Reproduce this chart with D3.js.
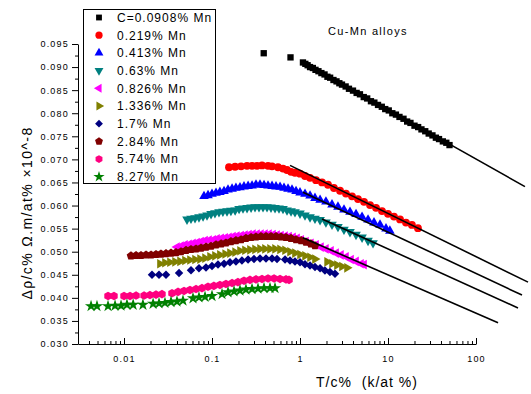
<!DOCTYPE html>
<html>
<head>
<meta charset="utf-8">
<script src="https://cdn.jsdelivr.net/npm/d3@7"></script>
<style>
  body { margin: 0; background: #fff; }
  text { font-family: "Liberation Sans", Arial, sans-serif; fill: #000; }
  .tick text { font-size: 9px; letter-spacing: 1.2px; }
</style>
</head>
<body>
<div id="chart"></div>
<script>
// T/c% values (x) and drho/c% values (y)
const t0908 = [0.387, 0.78, 1.08, 1.15, 1.22, 1.30, 1.40, 1.50, 1.62, 1.75, 1.90, 2.05, 2.2, 2.4, 2.6, 2.8, 3.0, 3.3, 3.6, 4.0, 4.4, 4.8, 5.3, 5.8, 6.4, 7.0, 7.7, 8.5, 9.3, 10.2, 11.2, 12.3, 13.5, 15, 16.5, 18, 20, 22, 24, 26.5, 29, 32, 35, 38, 42, 46, 50];
const r0908 = [0.0930, 0.0921, 0.0910, 0.0907, 0.0904, 0.0900, 0.0898, 0.0894, 0.0891, 0.0887, 0.0884, 0.0879, 0.0877, 0.0872, 0.0869, 0.0865, 0.0862, 0.0858, 0.0853, 0.0849, 0.0844, 0.0841, 0.0835, 0.0832, 0.0826, 0.0823, 0.0818, 0.0814, 0.0809, 0.0806, 0.0800, 0.0797, 0.0792, 0.0788, 0.0782, 0.0779, 0.0773, 0.0770, 0.0765, 0.0761, 0.0756, 0.0752, 0.0747, 0.0744, 0.0739, 0.0736, 0.0731];

const t219 = [0.156, 0.183, 0.214, 0.250, 0.285, 0.325, 0.370, 0.433, 0.481, 0.562, 0.641, 0.712, 0.791, 0.877, 1.0, 1.14, 1.30, 1.52, 1.78, 2.08, 2.43, 2.85, 3.33, 3.90, 4.56, 5.34, 6.25, 7.31, 8.55, 10.0, 11.7, 13.7, 16.0, 18.7, 21.9];
const r219 = [0.0683, 0.0684, 0.0685, 0.0686, 0.0686, 0.0686, 0.0687, 0.0686, 0.0685, 0.0683, 0.0680, 0.0677, 0.0673, 0.0671, 0.0669, 0.0664, 0.0660, 0.0655, 0.0650, 0.0645, 0.0638, 0.0632, 0.0626, 0.0620, 0.0614, 0.0608, 0.0601, 0.0595, 0.0588, 0.0582, 0.0576, 0.0570, 0.0563, 0.0558, 0.0551];

const t413 = [0.0811, 0.0901, 0.100, 0.111, 0.123, 0.137, 0.152, 0.169, 0.187, 0.208, 0.231, 0.257, 0.285, 0.316, 0.351, 0.390, 0.433, 0.481, 0.534, 0.593, 0.658, 0.731, 0.811, 0.901, 1.0, 1.14, 1.30, 1.48, 1.69, 1.97, 2.31, 2.70, 3.16, 3.70, 4.33, 5.07, 5.93, 6.93, 8.11, 9.49, 10.5];
const r413 = [0.0620, 0.0622, 0.0625, 0.0627, 0.0629, 0.0631, 0.0634, 0.0636, 0.0638, 0.0639, 0.0641, 0.0642, 0.0643, 0.0645, 0.0645, 0.0644, 0.0643, 0.0642, 0.0641, 0.0640, 0.0638, 0.0636, 0.0634, 0.0631, 0.0628, 0.0625, 0.0621, 0.0616, 0.0612, 0.0608, 0.0602, 0.0597, 0.0591, 0.0586, 0.0581, 0.0575, 0.0569, 0.0563, 0.0558, 0.0550, 0.0545];

const t63 = [0.0520, 0.0577, 0.0641, 0.0711, 0.0791, 0.0878, 0.0975, 0.108, 0.120, 0.133, 0.148, 0.164, 0.183, 0.203, 0.225, 0.250, 0.278, 0.308, 0.342, 0.380, 0.422, 0.468, 0.520, 0.577, 0.641, 0.712, 0.791, 0.877, 1.0, 1.14, 1.30, 1.48, 1.69, 1.97, 2.31, 2.70, 3.16, 3.70, 4.33, 5.07, 5.93, 6.76];
const r63 = [0.0570, 0.0572, 0.0573, 0.0575, 0.0577, 0.0579, 0.0582, 0.0584, 0.0586, 0.0587, 0.0588, 0.0589, 0.0590, 0.0593, 0.0594, 0.0595, 0.0596, 0.0597, 0.0597, 0.0597, 0.0597, 0.0596, 0.0595, 0.0594, 0.0593, 0.0590, 0.0588, 0.0586, 0.0583, 0.0579, 0.0575, 0.0572, 0.0569, 0.0564, 0.0559, 0.0554, 0.0548, 0.0543, 0.0537, 0.0531, 0.0524, 0.0519];

const t826 = [0.0400, 0.0444, 0.0493, 0.0548, 0.0608, 0.0676, 0.0750, 0.0833, 0.0925, 0.103, 0.114, 0.127, 0.141, 0.156, 0.173, 0.192, 0.214, 0.237, 0.263, 0.292, 0.325, 0.360, 0.400, 0.444, 0.493, 0.548, 0.608, 0.676, 0.750, 0.833, 0.925, 1.03, 1.17, 1.33, 1.52, 1.73, 1.97, 2.25, 2.57, 2.92, 3.33, 3.80, 4.33, 4.93, 5.34];
const r826 = [0.0510, 0.0512, 0.0515, 0.0516, 0.0518, 0.0520, 0.0522, 0.0524, 0.0525, 0.0526, 0.0528, 0.0529, 0.0530, 0.0531, 0.0533, 0.0534, 0.0535, 0.0536, 0.0537, 0.0538, 0.0538, 0.0538, 0.0538, 0.0538, 0.0537, 0.0536, 0.0535, 0.0534, 0.0533, 0.0531, 0.0529, 0.0526, 0.0522, 0.0518, 0.0515, 0.0510, 0.0506, 0.0502, 0.0497, 0.0493, 0.0489, 0.0483, 0.0479, 0.0474, 0.0472];

const t1336 = [0.0256, 0.0292, 0.0333, 0.0380, 0.0433, 0.0493, 0.0562, 0.0641, 0.0731, 0.0833, 0.0949, 0.108, 0.123, 0.141, 0.160, 0.183, 0.208, 0.237, 0.270, 0.308, 0.351, 0.400, 0.456, 0.520, 0.593, 0.676, 0.770, 0.877, 1.0, 1.14, 1.30, 1.48, 2.03, 2.31, 2.63, 3.00, 3.42];
const r1336 = [0.0474, 0.0476, 0.0477, 0.0478, 0.0479, 0.0481, 0.0482, 0.0483, 0.0484, 0.0486, 0.0489, 0.0491, 0.0493, 0.0495, 0.0497, 0.0499, 0.0502, 0.0503, 0.0504, 0.0505, 0.0506, 0.0506, 0.0506, 0.0506, 0.0505, 0.0503, 0.0500, 0.0497, 0.0494, 0.0491, 0.0488, 0.0484, 0.0478, 0.0474, 0.0471, 0.0468, 0.0465];

const t17 = [0.0208, 0.0250, 0.0300, 0.0422, 0.0577, 0.0711, 0.0855, 0.100, 0.117, 0.137, 0.160, 0.187, 0.219, 0.257, 0.300, 0.351, 0.411, 0.481, 0.548, 0.676, 0.770, 0.877, 1.0, 1.14, 1.30, 1.48, 1.69, 1.92, 2.19, 2.50];
const r17 = [0.0450, 0.0450, 0.0450, 0.0454, 0.0460, 0.0464, 0.0466, 0.0469, 0.0472, 0.0474, 0.0477, 0.0479, 0.0481, 0.0483, 0.0484, 0.0485, 0.0485, 0.0485, 0.0484, 0.0483, 0.0481, 0.0479, 0.0477, 0.0473, 0.0470, 0.0467, 0.0464, 0.0459, 0.0456, 0.0452];

const t284 = [0.0120, 0.0137, 0.0156, 0.0178, 0.0203, 0.0231, 0.0263, 0.0300, 0.0342, 0.0390, 0.0444, 0.0507, 0.0577, 0.0658, 0.0750, 0.0855, 0.0975, 0.111, 0.127, 0.144, 0.164, 0.187, 0.214, 0.243, 0.278, 0.316, 0.360, 0.411, 0.468, 0.534, 0.608, 0.693, 0.790, 0.901, 1.03, 1.17, 1.33, 1.48];
const r284 = [0.0491, 0.0492, 0.0492, 0.0493, 0.0493, 0.0494, 0.0495, 0.0496, 0.0497, 0.0498, 0.0500, 0.0503, 0.0505, 0.0506, 0.0508, 0.0510, 0.0512, 0.0515, 0.0517, 0.0519, 0.0522, 0.0524, 0.0526, 0.0529, 0.0531, 0.0532, 0.0533, 0.0533, 0.0533, 0.0533, 0.0532, 0.0531, 0.0529, 0.0526, 0.0524, 0.0521, 0.0517, 0.0513];

const t574 = [0.00658, 0.00769, 0.0100, 0.0117, 0.0137, 0.0169, 0.0197, 0.0231, 0.0270, 0.0351, 0.0411, 0.0481, 0.0562, 0.0658, 0.0769, 0.0901, 0.105, 0.123, 0.144, 0.169, 0.197, 0.231, 0.270, 0.316, 0.370, 0.433, 0.507, 0.593, 0.693, 0.750];
const r574 = [0.0404, 0.0404, 0.0404, 0.0404, 0.0405, 0.0405, 0.0406, 0.0407, 0.0408, 0.0410, 0.0413, 0.0415, 0.0417, 0.0419, 0.0421, 0.0424, 0.0426, 0.0428, 0.0430, 0.0432, 0.0434, 0.0437, 0.0439, 0.0440, 0.0441, 0.0442, 0.0442, 0.0441, 0.0440, 0.0439];

const t827 = [0.00422, 0.00493, 0.00658, 0.00791, 0.00925, 0.0108, 0.0127, 0.0164, 0.0214, 0.0250, 0.0292, 0.0342, 0.0400, 0.0468, 0.0608, 0.0711, 0.0833, 0.100, 0.130, 0.152, 0.178, 0.208, 0.243, 0.285, 0.333, 0.390, 0.456, 0.520];
const r827 = [0.0382, 0.0382, 0.0382, 0.0383, 0.0383, 0.0385, 0.0385, 0.0385, 0.0387, 0.0388, 0.0389, 0.0391, 0.0392, 0.0394, 0.0399, 0.0401, 0.0402, 0.0404, 0.0408, 0.0412, 0.0414, 0.0416, 0.0418, 0.0419, 0.0420, 0.0421, 0.0421, 0.0421];

// straight fits (log T), start / end points
const fitT0 = [1.14, 0.77, 1.08, 1.78, 1.08];
const fitR0 = [0.0909, 0.0687, 0.0629, 0.0571, 0.0530];
const fitT1 = [360, 390, 333, 300, 178];
const fitR1 = [0.0641, 0.0434, 0.0406, 0.0378, 0.0346];

const legendLabels = ["C=0.0908% Mn", "0.219% Mn", "0.413% Mn", "0.63% Mn", "0.826% Mn", "1.336% Mn", "1.7% Mn", "2.84% Mn", "5.74% Mn", "8.27% Mn"];
const xTicks = [0.01, 0.1, 1, 10, 100];
const yTicks = [0.030, 0.035, 0.040, 0.045, 0.050, 0.055, 0.060, 0.065, 0.070, 0.075, 0.080, 0.085, 0.090, 0.095];

// polygon marker for d3.symbol
function polygon(n, rot) {
  return {
    draw(ctx, size) {
      const r = Math.sqrt(2 * size / (n * Math.sin(2 * Math.PI / n)));
      for (let i = 0; i < n; i++) {
        const a = rot + 2 * Math.PI * i / n;
        const px = r * Math.sin(a), py = -r * Math.cos(a);
        if (i) ctx.lineTo(px, py); else ctx.moveTo(px, py);
      }
      ctx.closePath();
    }
  };
}

const series = [
  { t: t0908, r: r0908, color: "#000000", type: d3.symbolSquare, rot: 0, size: 40 },
  { t: t219, r: r219, color: "#ff0000", type: d3.symbolCircle, rot: 0, size: 48 },
  { t: t413, r: r413, color: "#0000ff", type: d3.symbolTriangle, rot: 0, size: 40 },
  { t: t63, r: r63, color: "#008080", type: d3.symbolTriangle, rot: 180, size: 40 },
  { t: t826, r: r826, color: "#ff00ff", type: d3.symbolTriangle, rot: -90, size: 40 },
  { t: t1336, r: r1336, color: "#808000", type: d3.symbolTriangle, rot: 90, size: 40 },
  { t: t17, r: r17, color: "#000080", type: d3.symbolSquare, rot: 45, size: 36 },
  { t: t284, r: r284, color: "#800000", type: polygon(5, 0), rot: 0, size: 48 },
  { t: t574, r: r574, color: "#ff0080", type: polygon(6, 0), rot: 0, size: 48 },
  { t: t827, r: r827, color: "#008000", type: d3.symbolStar, rot: 0, size: 46 }
];

const W = 531, H = 394;
const svg = d3.select("#chart").append("svg")
  .attr("width", W).attr("height", H)
  .style("background", "#fff");

const x = d3.scaleLog().domain([0.003, 100]).range([78, 476]);
const y = d3.scaleLinear().domain([0.030, 0.095]).range([344, 44]);

// minor ticks
const xMinor = [];
[0.001, 0.01, 0.1, 1, 10].forEach(d => { for (let k = 2; k <= 9; k++) { const v = d * k; if (v >= 0.003 && v < 100) xMinor.push(v); } });
const yMinor = yTicks.slice(0, -1).map(v => v + 0.0025);

svg.append("g").attr("transform", "translate(0,344)")
  .call(d3.axisBottom(x).tickValues(xMinor).tickFormat("").tickSizeInner(-3).tickSizeOuter(0))
  .call(g => g.select(".domain").remove());
svg.append("g").attr("transform", "translate(0,344)")
  .call(d3.axisBottom(x).tickValues(xTicks).tickFormat(d3.format("~g")).tickSizeInner(-6).tickSizeOuter(0).tickPadding(12));

svg.append("g").attr("transform", "translate(78,0)")
  .call(d3.axisLeft(y).tickValues(yMinor).tickFormat("").tickSizeInner(3).tickSizeOuter(0))
  .call(g => g.select(".domain").remove());
svg.append("g").attr("transform", "translate(78,0)")
  .call(d3.axisLeft(y).tickValues(yTicks).tickFormat(d3.format(".3f")).tickSizeInner(6).tickSizeOuter(0).tickPadding(3));

svg.selectAll(".domain, .tick line").attr("stroke", "#000");

// data markers
series.forEach(s => {
  const pts = d3.zip(s.t, s.r);
  svg.append("g").selectAll("path")
    .data(pts).join("path")
    .attr("d", d3.symbol().type(s.type).size(s.size))
    .attr("transform", d => `translate(${x(d[0])},${y(d[1])}) rotate(${s.rot})`)
    .attr("fill", s.color);
});

// fitted lines
const fits = d3.range(fitT0.length).map(i => [[fitT0[i], fitR0[i]], [fitT1[i], fitR1[i]]]);
svg.append("g").selectAll("path")
  .data(fits).join("path")
  .attr("d", d3.line().x(d => x(d[0])).y(d => y(d[1])))
  .attr("fill", "none")
  .attr("stroke", "#000")
  .attr("stroke-width", 1.6);

// legend
const lg = svg.append("g");
lg.append("rect").attr("x", 83.5).attr("y", 9.5).attr("width", 132).attr("height", 174)
  .attr("fill", "#fff").attr("stroke", "#000").attr("stroke-width", 1);
series.forEach((s, i) => {
  const cy = 17.5 + i * 17.7;
  lg.append("path")
    .attr("d", d3.symbol().type(s.type).size(s.size * 0.85))
    .attr("transform", `translate(99,${cy}) rotate(${s.rot})`)
    .attr("fill", s.color);
  lg.append("text").attr("x", 117).attr("y", cy + 4.3)
    .style("font-size", "12px").style("letter-spacing", "1px")
    .text(legendLabels[i]);
});

// titles
svg.append("text").attr("x", 368).attr("y", 35).attr("text-anchor", "middle")
  .style("font-size", "11px").style("letter-spacing", "1.3px")
  .text("Cu-Mn alloys");

svg.append("text").attr("x", 367).attr("y", 387).attr("text-anchor", "middle")
  .style("font-size", "14px").style("letter-spacing", "1px").style("white-space", "pre")
  .text("T/c%  (k/at %)");

svg.append("text")
  .attr("transform", "translate(32,213) rotate(-90)")
  .attr("text-anchor", "middle")
  .style("font-size", "14px").style("letter-spacing", "1.4px")
  .text("Δρ/c% Ω.m/at% ×10^-8");
</script>
</body>
</html>
